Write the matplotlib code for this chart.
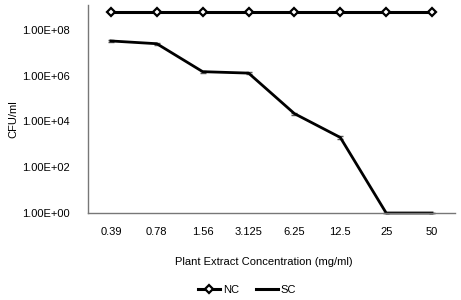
import matplotlib.pyplot as plt
from matplotlib.lines import Line2D
import numpy as np

plt.rcParams['font.family'] = ['Liberation Sans', 'DejaVu Sans']

concentrations = ["0.39", "0.78", "1.56", "3.125", "6.25", "12.5", "25", "50"]
nc_values = [6e8, 6e8, 6e8, 6e8, 6e8, 6e8, 6e8, 6e8]
sc_values = [3.3e7, 2.5e7, 1.5e6, 1.3e6, 2.2e4, 2.0e3, 1.0, 1.0]
sc_err = [2e6, 2e6, 1.5e5, 1.5e5, 2.5e3, 3e2, 0, 0]
y_ticks = [1e0, 1e2, 1e4, 1e6, 1e8]
y_tick_labels = ["1.00E+00", "1.00E+02", "1.00E+04", "1.00E+06", "1.00E+08"]

fig = plt.figure(figsize=(4.61, 3.0), dpi=100)
ax = fig.add_axes([88 / 461, 87 / 300, 367 / 461, 208 / 300])

x = np.arange(len(concentrations))
ax.plot(x, nc_values, color='black', lw=2.2, marker='D', markersize=4.5,
        mfc='white', mec='black', mew=1.6, clip_on=False)
ax.errorbar(x, sc_values, yerr=sc_err, color='black', lw=2.0, capsize=2,
            elinewidth=0.8, ecolor='#555555', clip_on=False)

ax.set_yscale('log')
ax.set_ylim(1, 10 ** 9.09)
ax.set_xlim(-0.5, len(concentrations) - 0.5)
ax.set_yticks(y_ticks)
ax.set_yticklabels(y_tick_labels)
ax.yaxis.set_minor_locator(plt.NullLocator())
ax.set_xticks(x)
ax.set_xticklabels(concentrations)
ax.tick_params(axis='both', length=0, labelsize=8, pad=10)
ax.tick_params(axis='y', pad=13)

for side in ['top', 'right']:
    ax.spines[side].set_visible(False)
for side in ['left', 'bottom']:
    ax.spines[side].set_color('#777777')
    ax.spines[side].set_linewidth(1.0)

ax.set_xlabel('Plant Extract Concentration (mg/ml)', fontsize=8)
ax.xaxis.set_label_coords(0.48, -0.212)
ax.set_ylabel('CFU/ml', fontsize=8)
ax.yaxis.set_label_coords(-0.19, 0.45)

handles = [
    Line2D([], [], color='black', lw=2.2, marker='D', markersize=4.5,
           mfc='white', mec='black', mew=1.6),
    Line2D([], [], color='black', lw=2.2),
]
ax.legend(handles, ['NC', 'SC'], loc='center', bbox_to_anchor=(0.433, -0.37),
          ncol=2, frameon=False, fontsize=8, handlelength=2.0,
          handletextpad=0.25, columnspacing=1.5)

fig.savefig('out.png', dpi=100)
